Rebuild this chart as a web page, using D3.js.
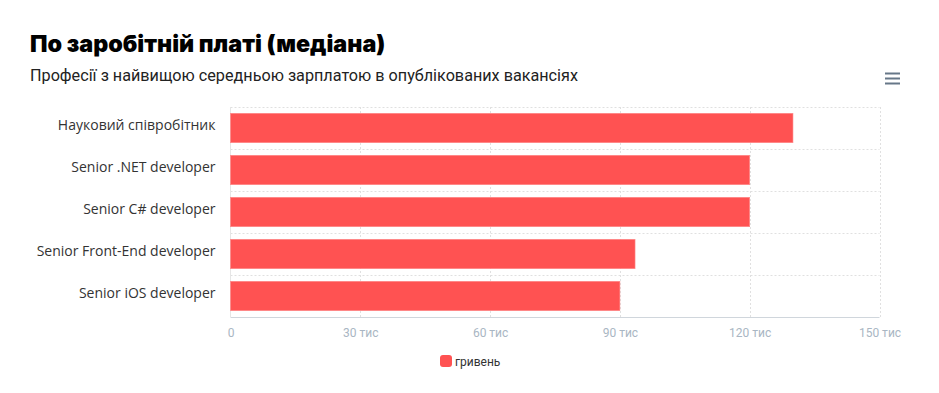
<!DOCTYPE html>
<html><head><meta charset="utf-8">
<script src="https://cdn.jsdelivr.net/npm/d3@7"></script>
<style>
html,body{margin:0;padding:0;background:#fff;}
svg{display:block;}
</style></head>
<body>
<svg id="chart" width="939" height="393"></svg>
<script>
const titleText = "По заробітній платі (медіана)";
const subtitleText = "Професії з найвищою середньою зарплатою в опублікованих вакансіях";
const categories = ["Науковий співробітник","Senior .NET developer","Senior C# developer","Senior Front-End developer","Senior iOS developer"];
const values = [130000, 120000, 120000, 93500, 90000];
const tickValues = [0, 30000, 60000, 90000, 120000, 150000];
const tickLabels = ["0","30 тис","60 тис","90 тис","120 тис","150 тис"];
const seriesName = "гривень";

const svg = d3.select("#chart");
const color = "#ff5252";
const m = {left:230.5, right:879.5, top:107, bottom:317};

svg.append("text").attr("x",30).attr("y",52).text(titleText)
  .attr("font-family","Inter, Roboto, sans-serif").attr("font-weight",900).attr("font-size",23.3).attr("fill","#000");
svg.append("text").attr("x",30).attr("y",81).text(subtitleText)
  .attr("font-family","Roboto, sans-serif").attr("font-size",16.2).attr("fill","#222");

// menu icon
const menu = svg.append("g").attr("fill","none").attr("stroke","#667788").attr("stroke-width",2);
[73.5,78.5,83.5].forEach(y=>menu.append("line").attr("x1",885).attr("x2",900).attr("y1",y).attr("y2",y));

const x = d3.scaleLinear().domain([0,150000]).range([m.left,m.right]);
const y = d3.scaleBand().domain(categories).range([m.top,m.bottom]).paddingInner(0.3).paddingOuter(0.15);

// grid: vertical
svg.append("g").selectAll("line").data(tickValues.slice(1)).join("line")
  .attr("x1",d=>Math.round(x(d))+0.5).attr("x2",d=>Math.round(x(d))+0.5)
  .attr("y1",m.top).attr("y2",m.bottom)
  .attr("stroke","#e0e0e0").attr("stroke-dasharray","2,2");
// grid: horizontal band boundaries
const bounds = categories.map(c=>y(c)-y.step()*y.paddingInner()/2);
svg.append("g").selectAll("line").data(bounds).join("line")
  .attr("x1",m.left).attr("x2",m.right)
  .attr("y1",d=>Math.round(d)+0.5).attr("y2",d=>Math.round(d)+0.5)
  .attr("stroke","#e0e0e0").attr("stroke-dasharray","2,2");

// left axis line
svg.append("line").attr("x1",m.left).attr("x2",m.left).attr("y1",m.top).attr("y2",m.bottom)
  .attr("stroke","#e6e6e6");

// bars
svg.append("g").selectAll("rect").data(categories).join("rect")
  .attr("x",x(0)).attr("y",c=>y(c)).attr("height",y.bandwidth())
  .attr("width",(c,i)=>x(values[i])-x(0))
  .attr("fill",color).attr("stroke","#ff8a8a").attr("stroke-width",0.6);

// bottom axis line
svg.append("line").attr("x1",m.left).attr("x2",m.right).attr("y1",m.bottom+0.5).attr("y2",m.bottom+0.5)
  .attr("stroke","#d0d6dc");

// x axis labels
const xAxis = d3.axisBottom(x).tickValues(tickValues).tickSize(0).tickPadding(0)
  .tickFormat((d,i)=>tickLabels[i]);
const gx = svg.append("g").attr("transform",`translate(0,${m.bottom+11})`).call(xAxis);
gx.select(".domain").remove();
gx.selectAll("text").attr("font-family","Roboto, sans-serif").attr("font-size",12).attr("fill","#a9b6c3").attr("dy","0.71em");

// y axis labels
const yAxis = d3.axisLeft(y).tickSize(0).tickPadding(15);
const gy = svg.append("g").attr("transform",`translate(${m.left},-2)`).call(yAxis);
gy.select(".domain").remove();
gy.selectAll("text").attr("font-family","'Open Sans', sans-serif").attr("font-size",14).attr("fill","#333");

// legend
const lg = svg.append("g").attr("transform","translate(440,355)");
lg.append("rect").attr("width",12).attr("height",12).attr("rx",3).attr("fill",color);
lg.append("text").attr("x",15).attr("y",10.5).text(seriesName)
  .attr("font-family","Roboto, sans-serif").attr("font-size",12).attr("fill","#333");
</script>
</body></html>
